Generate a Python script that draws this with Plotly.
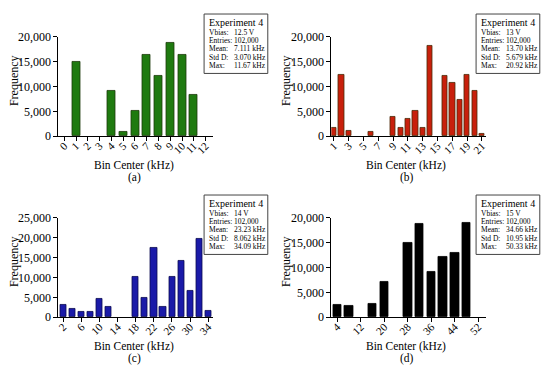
import plotly.graph_objects as go

W, H = 550, 376

# ---------------- data ----------------
a_bins = list(range(0, 13))
a_freq = [0, 15000, 0, 0, 9200, 830, 5030, 16300, 12250, 18750, 16380, 8380, 0]
a_ticks = list(range(0, 13))

b_bins = list(range(1, 22))
b_freq = [1660, 12450, 1030, 0, 0, 830, 0, 0, 3870, 1800, 3600, 5030, 1660,
          18250, 0, 12100, 10850, 7280, 12450, 9100, 500]
b_ticks = list(range(1, 22, 2))

c_bins = list(range(2, 35, 2))
c_freq = [3050, 2010, 1450, 1450, 4670, 2660, 0, 0, 10070, 4910, 17400, 2660,
          10070, 14100, 6530, 19840, 1690]
c_ticks = list(range(2, 35, 4))

d_bins = list(range(4, 53, 4))
d_freq = [2600, 2320, 0, 2800, 7160, 0, 15000, 18700, 9100, 12250, 12950, 19050, 0]
d_ticks = list(range(4, 53, 8))

stat_labels = ["Vbias:", "Entries:", "Mean:", "Std D:", "Max:"]
a_stats = ["12.5 V", "102,000", "7.111 kHz", "3.070 kHz", "11.67 kHz"]
b_stats = ["13 V", "102,000", "13.70 kHz", "5.679 kHz", "20.92 kHz"]
c_stats = ["14 V", "102,000", "23.23 kHz", "8.062 kHz", "34.09 kHz"]
d_stats = ["15 V", "102,000", "34.66 kHz", "10.95 kHz", "50.33 kHz"]

FONT = "Liberation Serif"

panels = [
    dict(bins=a_bins, freq=a_freq, ticks=a_ticks, xr=[-0.5, 12.6], yr=[0, 20000],
         x0=55, x1=211, yb=134.3, yt=31, width=0.68, color="#1f7a10", line="#1c3a0a",
         stats=a_stats, ox=0, oy=0, tag="(a)"),
    dict(bins=b_bins, freq=b_freq, ticks=b_ticks, xr=[0.65, 21.5], yr=[0, 20000],
         x0=331, x1=487, yb=134.3, yt=31, width=0.72, color="#c8200c", line="#4a2a08",
         stats=b_stats, ox=275, oy=0, tag="(b)"),
    dict(bins=c_bins, freq=c_freq, ticks=c_ticks, xr=[0.9, 35.0], yr=[0, 25000],
         x0=55, x1=211, yb=322.3, yt=219, width=1.35, color="#1a1aa8", line="#0a0a50",
         stats=c_stats, ox=0, oy=188, tag="(c)"),
    dict(bins=d_bins, freq=d_freq, ticks=d_ticks, xr=[2.0, 54.5], yr=[0, 20000],
         x0=331, x1=487, yb=322.3, yt=219, width=2.9, color="#000000", line="#000000",
         stats=d_stats, ox=275, oy=188, tag="(d)"),
]

fig = go.Figure()
shapes = []
annotations = []

def px(x):
    return x / W

def py(y):
    return 1 - y / H

for i, p in enumerate(panels):
    n = "" if i == 0 else str(i + 1)
    xa, ya = "x" + n, "y" + n
    lw = [0.8 if v > 0 else 0 for v in p["freq"]]
    fig.add_trace(go.Bar(
        x=p["bins"], y=p["freq"], width=p["width"],
        marker=dict(color=p["color"], line=dict(color=p["line"], width=lw)),
        xaxis=xa, yaxis=ya, showlegend=False, hoverinfo="x+y"))
    axis_common = dict(showline=True, linecolor="black", linewidth=1, ticks="outside",
                       ticklen=4, tickwidth=1, tickcolor="black", showgrid=False,
                       zeroline=False)
    fig.layout["xaxis" + n] = dict(
        axis_common, domain=[px(p["x0"]), px(p["x1"])], anchor=ya, range=p["xr"],
        tickmode="array", tickvals=p["ticks"], ticktext=[str(t) for t in p["ticks"]],
        tickangle=-45, ticklabelstandoff=-6,
        tickfont=dict(family=FONT, size=11, color="black"))
    fig.layout["yaxis" + n] = dict(
        axis_common, domain=[py(p["yb"]), py(p["yt"])], anchor=xa, range=p["yr"],
        tickformat=",", dtick=5000, tickfont=dict(family=FONT, size=12, color="black"))

    ox, oy = p["ox"], p["oy"]
    annotations.append(dict(text="Frequency", x=px(ox + 10), y=py(oy + 76), xref="paper",
                            yref="paper", showarrow=False, textangle=-90,
                            font=dict(family=FONT, size=12, color="black"),
                            xanchor="center", yanchor="middle"))
    annotations.append(dict(text="Bin Center (kHz)", x=px(ox + 131), y=py(oy + 164.5),
                            xref="paper", yref="paper", showarrow=False,
                            font=dict(family=FONT, size=11.5, color="black"),
                            xanchor="center", yanchor="middle"))
    annotations.append(dict(text=p["tag"], x=px(ox + 132), y=py(oy + 177.5),
                            xref="paper", yref="paper", showarrow=False,
                            font=dict(family=FONT, size=11.5, color="black"),
                            xanchor="center", yanchor="middle"))
    bl, bt, br, bb = ox + 202.3, oy + 7.3, ox + 266.7, oy + 69
    shapes.append(dict(type="rect", xref="paper", yref="paper", x0=px(bl), x1=px(br),
                       y0=py(bb), y1=py(bt), line=dict(color="#444444", width=1),
                       fillcolor="white"))
    annotations.append(dict(text="Experiment 4", x=px(bl + 2.5), y=py(oy + 16),
                            xref="paper", yref="paper", showarrow=False,
                            font=dict(family=FONT, size=10, color="black"),
                            xanchor="left", yanchor="middle"))
    for k, (lab, val) in enumerate(zip(stat_labels, p["stats"])):
        yy = oy + 26 + k * 8.75
        annotations.append(dict(text=lab, x=px(bl + 2.5), y=py(yy), xref="paper",
                                yref="paper", showarrow=False,
                                font=dict(family=FONT, size=7.5, color="black"),
                                xanchor="left", yanchor="middle"))
        annotations.append(dict(text=val, x=px(bl + 28), y=py(yy), xref="paper",
                                yref="paper", showarrow=False,
                                font=dict(family=FONT, size=7.5, color="black"),
                                xanchor="left", yanchor="middle"))

fig.update_layout(width=W, height=H, margin=dict(l=0, r=0, t=0, b=0),
                  paper_bgcolor="white", plot_bgcolor="white",
                  shapes=shapes, annotations=annotations, bargap=0,
                  font=dict(family=FONT, color="black"))

fig.write_html("out.html", config={"displayModeBar": False},
               post_script="document.body.style.margin='0';document.body.style.overflow='hidden';")
